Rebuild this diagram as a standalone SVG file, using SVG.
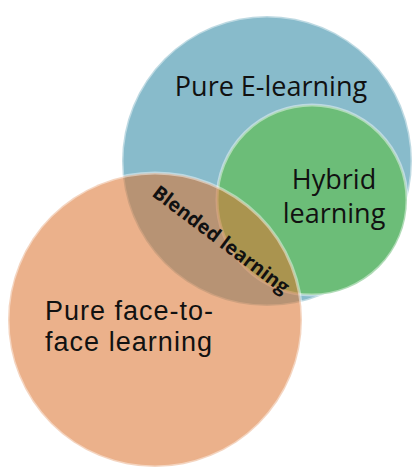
<svg xmlns="http://www.w3.org/2000/svg" width="414" height="467" viewBox="0 0 414 467">
<style>
.lbl{font-family:"Open Sans","Liberation Sans",sans-serif;font-size:27px;fill:#111;}
.lbl2{font-family:"Liberation Sans",Arial,sans-serif;font-size:27px;fill:#111;}
.bl{font-family:"Open Sans","Liberation Sans",sans-serif;font-size:19.5px;font-weight:bold;fill:#111;}
.rim{stroke:#ffffff;stroke-opacity:0.45;stroke-width:3;}
</style>
<rect width="414" height="467" fill="#ffffff"/>
<g id="pure-elearning">
<circle cx="267" cy="161" r="145" fill="#88bbcb" class="rim"/>
<text class="lbl" x="271" y="96" text-anchor="middle">Pure E-learning</text>
</g>
<g id="hybrid-learning">
<circle cx="312" cy="200" r="95" fill="#6cbd78" class="rim"/>
<text class="lbl" x="334" y="189" text-anchor="middle">Hybrid</text>
<text class="lbl" x="334" y="223" text-anchor="middle">learning</text>
</g>
<g id="pure-face-to-face">
<circle cx="155" cy="320" r="147" fill="#dc7430" fill-opacity="0.56" class="rim"/>
<text class="lbl2" x="45" y="320" textLength="168">Pure face-to-</text>
<text class="lbl2" x="45" y="351" textLength="167">face learning</text>
</g>
<g id="blended-learning">
<text class="bl" transform="translate(217,245) rotate(37)" text-anchor="middle">Blended learning</text>
</g>
</svg>
